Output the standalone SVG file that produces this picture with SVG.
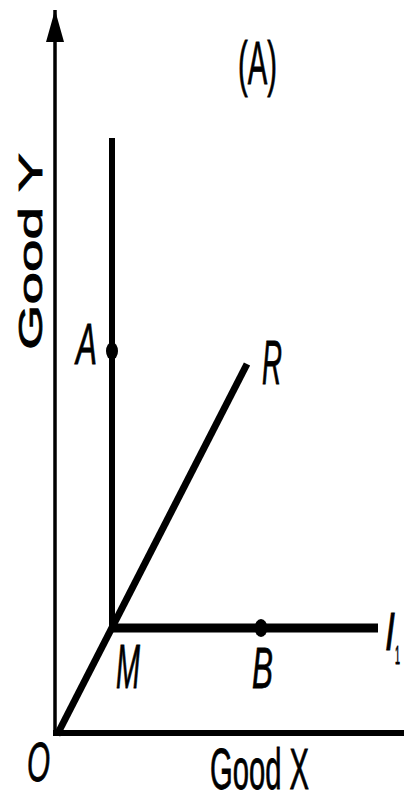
<svg xmlns="http://www.w3.org/2000/svg" width="404" height="794" viewBox="0 0 404 794">
<style>
.ln{stroke:#000;fill:none;stroke-linecap:butt}
.lbl{font-family:"Liberation Sans",Arial,sans-serif;fill:#000;stroke:#000;stroke-width:0.8}
.it{font-style:italic}
.pt{fill:#000}
</style>
<defs>
<marker id="arr" markerUnits="userSpaceOnUse" markerWidth="32" markerHeight="18" refX="32" refY="9" orient="auto">
<path d="M0,0 L32,9 L0,18 z" fill="#000"/>
</marker>
</defs>
<rect width="404" height="794" fill="#fff"/>
<g id="connectors">
<line id="y-axis" class="ln" x1="55" y1="735" x2="55" y2="10" stroke-width="3.5" marker-end="url(#arr)"/>
<line id="x-axis" class="ln" x1="53" y1="733" x2="404" y2="733" stroke-width="6"/>
<line id="ray-OR" class="ln" x1="57" y1="735" x2="247" y2="364" stroke-width="7"/>
<line id="ic-vertical" class="ln" x1="112" y1="138" x2="112" y2="631" stroke-width="6"/>
<line id="ic-horizontal" class="ln" x1="109" y1="628" x2="378" y2="628" stroke-width="9"/>
</g>
<g id="title"><text class="lbl" x="238" y="84" font-size="62" textLength="39" lengthAdjust="spacingAndGlyphs">(A)</text></g>
<g id="label-good-y"><text class="lbl" transform="translate(42,350) rotate(-90)" x="0" y="0" font-size="34" textLength="197" lengthAdjust="spacingAndGlyphs">Good Y</text></g>
<g id="label-good-x"><text class="lbl" x="210" y="789" font-size="58" textLength="99" lengthAdjust="spacingAndGlyphs">Good X</text></g>
<g id="node-A"><ellipse class="pt" cx="112" cy="351" rx="6" ry="9"/><text class="lbl it" x="76" y="364" font-size="58" textLength="21" lengthAdjust="spacingAndGlyphs">A</text></g>
<g id="node-B"><ellipse class="pt" cx="261" cy="628" rx="6.5" ry="9"/><text class="lbl it" x="252" y="688" font-size="57" textLength="21" lengthAdjust="spacingAndGlyphs">B</text></g>
<g id="node-M"><text class="lbl it" x="116" y="688" font-size="63" textLength="24" lengthAdjust="spacingAndGlyphs">M</text></g>
<g id="node-O"><text class="lbl it" x="27" y="781" font-size="56" textLength="23" lengthAdjust="spacingAndGlyphs">O</text></g>
<g id="node-R"><text class="lbl it" x="262" y="384" font-size="63" textLength="20" lengthAdjust="spacingAndGlyphs">R</text></g>
<g id="node-I1"><text class="lbl it" x="385" y="650" font-size="53" textLength="10" lengthAdjust="spacingAndGlyphs">I</text><text class="lbl" x="395" y="664" font-size="26" textLength="5" lengthAdjust="spacingAndGlyphs">1</text></g>
</svg>
